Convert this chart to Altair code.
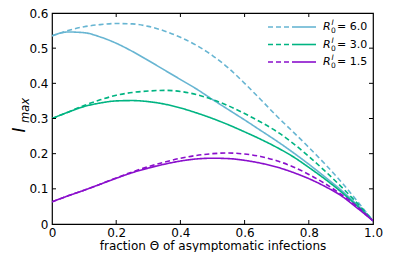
import altair as alt
import pandas as pd

theta = [0.0, 0.05, 0.1, 0.15, 0.2, 0.25, 0.3, 0.35, 0.4, 0.45, 0.5,
         0.55, 0.6, 0.65, 0.7, 0.75, 0.8, 0.85, 0.9, 0.95, 1.0]

r6_solid = [0.535, 0.546, 0.544, 0.532, 0.514, 0.491, 0.465, 0.438, 0.411, 0.384, 0.354,
            0.325, 0.296, 0.266, 0.236, 0.204, 0.170, 0.134, 0.097, 0.055, 0.009]
r6_dash = [0.535, 0.550, 0.561, 0.567, 0.570, 0.569, 0.562, 0.549, 0.531, 0.508, 0.479,
           0.443, 0.400, 0.354, 0.307, 0.263, 0.218, 0.171, 0.121, 0.066, 0.009]
r3_solid = [0.300, 0.318, 0.334, 0.344, 0.350, 0.351, 0.348, 0.341, 0.330, 0.316, 0.300,
            0.282, 0.262, 0.241, 0.218, 0.192, 0.161, 0.128, 0.092, 0.052, 0.009]
r3_dash = [0.300, 0.318, 0.337, 0.353, 0.366, 0.374, 0.378, 0.380, 0.377, 0.368, 0.354,
           0.336, 0.314, 0.290, 0.263, 0.230, 0.192, 0.151, 0.107, 0.060, 0.009]
r15_solid = [0.063, 0.080, 0.096, 0.113, 0.130, 0.146, 0.159, 0.170, 0.179, 0.185, 0.187,
             0.186, 0.181, 0.173, 0.162, 0.147, 0.129, 0.107, 0.081, 0.046, 0.009]
r15_dash = [0.063, 0.080, 0.096, 0.113, 0.131, 0.148, 0.163, 0.176, 0.187, 0.195, 0.200,
            0.202, 0.199, 0.192, 0.180, 0.163, 0.141, 0.115, 0.085, 0.050, 0.009]

r_labels = ["6.0", "3.0", "1.5"]
colors = ["#67b5d2", "#00b482", "#8a0fcc"]
x_ticks = [0.0, 0.2, 0.4, 0.6, 0.8, 1.0]
y_ticks = [0.0, 0.1, 0.2, 0.3, 0.4, 0.5, 0.6]
x_title = "fraction \u0398 of asymptomatic infections"

W, H = 321, 211
FONT = "DejaVu Sans"

series = [("6.0", "solid", r6_solid), ("6.0", "dashed", r6_dash),
          ("3.0", "solid", r3_solid), ("3.0", "dashed", r3_dash),
          ("1.5", "solid", r15_solid), ("1.5", "dashed", r15_dash)]
rows = []
for r, style, vals in series:
    for t, v in zip(theta, vals):
        rows.append({"theta": t, "imax": v, "R": r, "style": style, "key": r + style})
df = pd.DataFrame(rows)

xscale = alt.Scale(domain=[0, 1], nice=False, zero=False)
yscale = alt.Scale(domain=[0, 0.6], nice=False)
cscale = alt.Scale(domain=r_labels, range=colors)
label_expr = "datum.value == 0 ? '0' : format(datum.value, '.1f')"

x_axis = alt.Axis(values=x_ticks, labelExpr=label_expr, tickSize=0, domain=False,
                  grid=False, labelPadding=3, labelFontSize=12, labelFont=FONT,
                  labelColor="black", title=x_title, titleFont=FONT,
                  titleFontSize=12, titleFontWeight="normal", titleColor="black",
                  titlePadding=2, labelFlush=False, labelOverlap=False)
y_axis = alt.Axis(values=y_ticks, labelExpr=label_expr, tickSize=0, domain=False,
                  grid=False, labelPadding=4, labelFontSize=12, labelFont=FONT,
                  labelColor="black", title=None, labelFlush=False,
                  labelOverlap=False)

lines = alt.Chart(df).mark_line(strokeWidth=1.6, clip=True, interpolate="monotone").encode(
    x=alt.X("theta:Q", scale=xscale, axis=x_axis),
    y=alt.Y("imax:Q", scale=yscale, axis=y_axis),
    color=alt.Color("R:N", scale=cscale, legend=None),
    strokeDash=alt.StrokeDash("style:N",
                              scale=alt.Scale(domain=["solid", "dashed"], range=[[1, 0], [5, 3]]),
                              legend=None),
    detail="key:N",
)

xt = pd.DataFrame({"t": x_ticks[1:-1]})
yt = pd.DataFrame({"t": y_ticks[1:-1]})
tick_bottom = alt.Chart(xt).mark_rule(color="black", strokeWidth=1).encode(
    x=alt.X("t:Q", scale=xscale, axis=x_axis), y=alt.value(H), y2=alt.value(H - 4))
tick_top = alt.Chart(xt).mark_rule(color="black", strokeWidth=1).encode(
    x=alt.X("t:Q", scale=xscale, axis=x_axis), y=alt.value(0), y2=alt.value(4))
tick_left = alt.Chart(yt).mark_rule(color="black", strokeWidth=1).encode(
    y=alt.Y("t:Q", scale=yscale, axis=y_axis), x=alt.value(0), x2=alt.value(4))
tick_right = alt.Chart(yt).mark_rule(color="black", strokeWidth=1).encode(
    y=alt.Y("t:Q", scale=yscale, axis=y_axis), x=alt.value(W), x2=alt.value(W - 4))

leg = pd.DataFrame({"R": r_labels,
                    "ypix": [14 + 17.5 * i for i in range(len(r_labels))],
                    "txt": ["= " + r for r in r_labels]})
leg_dash = alt.Chart(leg).mark_rule(strokeWidth=1.6, strokeDash=[5, 3]).encode(
    x=alt.value(216), x2=alt.value(240), y=alt.Y("ypix:Q", scale=None),
    color=alt.Color("R:N", scale=cscale, legend=None))
leg_solid = alt.Chart(leg).mark_rule(strokeWidth=1.6).encode(
    x=alt.value(240), x2=alt.value(264), y=alt.Y("ypix:Q", scale=None),
    color=alt.Color("R:N", scale=cscale, legend=None))
leg_R = alt.Chart(leg).mark_text(text="R", font=FONT, fontSize=11, fontStyle="italic",
                                 align="left", baseline="middle", color="black").encode(
    x=alt.value(271), y=alt.Y("ypix:Q", scale=None))
leg_sup = alt.Chart(leg).mark_text(text="I", font=FONT, fontSize=7.5, fontStyle="italic",
                                   align="left", baseline="middle", color="black", dy=-4).encode(
    x=alt.value(279.5), y=alt.Y("ypix:Q", scale=None))
leg_sub = alt.Chart(leg).mark_text(text="0", font=FONT, fontSize=7.5,
                                   align="left", baseline="middle", color="black", dy=4).encode(
    x=alt.value(279), y=alt.Y("ypix:Q", scale=None))
leg_txt = alt.Chart(leg).mark_text(font=FONT, fontSize=11, align="left",
                                   baseline="middle", color="black").encode(
    x=alt.value(285), y=alt.Y("ypix:Q", scale=None), text="txt:N")

yt_df = pd.DataFrame({"a": ["I"], "b": ["max"]})
ytitle_I = alt.Chart(yt_df).mark_text(font=FONT, fontSize=17, fontStyle="italic", angle=270,
                                      align="center", baseline="middle", color="black").encode(
    x=alt.value(-32), y=alt.value(117), text="a:N")
ytitle_max = alt.Chart(yt_df).mark_text(font=FONT, fontSize=11.5, fontStyle="italic", angle=270,
                                        align="left", baseline="middle", color="black").encode(
    x=alt.value(-26), y=alt.value(110), text="b:N")

chart = alt.layer(
    lines, tick_bottom, tick_top, tick_left, tick_right,
    leg_dash, leg_solid, leg_R, leg_sup, leg_sub, leg_txt,
    ytitle_I, ytitle_max,
).properties(
    width=W, height=H,
    background="white",
    autosize=alt.AutoSizeParams(type="none"),
    padding={"left": 44, "top": 5, "right": 30, "bottom": 28},
).configure_view(
    stroke="black", strokeWidth=1.2
)

chart.save("out.html", embed_options={"renderer": "svg", "actions": False})
